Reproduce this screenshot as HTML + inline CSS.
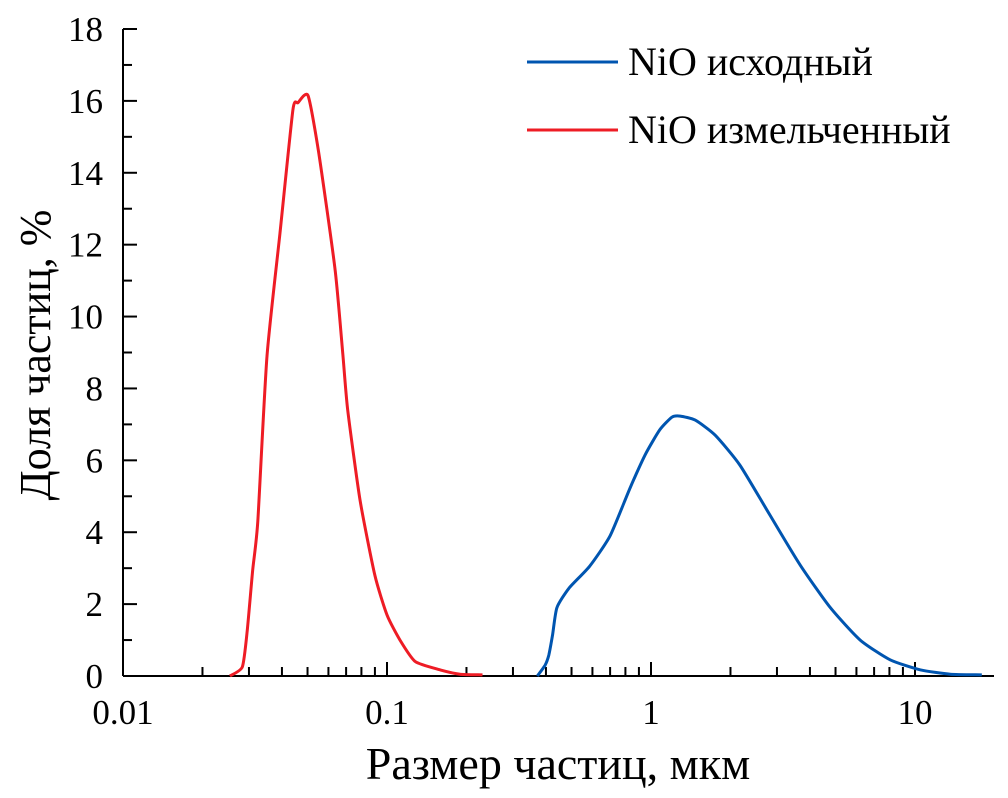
<!DOCTYPE html>
<html><head><meta charset="utf-8"><style>
body{margin:0;background:#fff}
svg{display:block}
svg text{font-family:"Liberation Serif","Times New Roman",Times,"Noto Serif CJK SC","DejaVu Serif",serif;fill:#000}
</style></head><body>
<svg id="chart" width="1008" height="798" viewBox="0 0 1008 798" xmlns="http://www.w3.org/2000/svg">
<g id="axes"></g>
<g id="series"></g>
<g>
<line x1="527" y1="62" x2="618" y2="62" stroke="#0055b0" stroke-width="3"/>
<text x="628" y="75" font-size="40">NiO исходный</text>
<line x1="527" y1="130" x2="618" y2="130" stroke="#ee1c25" stroke-width="3"/>
<text x="628" y="143" font-size="40">NiO измельченный</text>
</g>
<text x="558" y="779" font-size="46" text-anchor="middle">Размер частиц, мкм</text>
<text transform="translate(50,355) rotate(-90)" font-size="44" text-anchor="middle">Доля частиц, %</text>
</svg>
<script>
const yTicks=[0,2,4,6,8,10,12,14,16,18];
const xTickLabels=["0.01","0.1","1","10"];
const xDecades=[0.01,0.1,1,10];
const milledSize=[0.0254,0.0283,0.0295,0.031,0.0324,0.0351,0.0393,0.044,0.046,0.0502,0.055,0.0636,0.0681,0.071,0.079,0.090,0.1,0.112,0.128,0.159,0.189,0.23];
const milledShare=[0,0.25,1.2,2.95,4.3,8.9,12.3,15.75,15.95,16.15,14.6,11.3,8.9,7.4,4.9,2.8,1.7,1.0,0.4,0.17,0.05,0.03];
const origSize=[0.371,0.397,0.41,0.424,0.44,0.49,0.585,0.70,0.83,0.95,1.08,1.2,1.29,1.47,1.75,2.17,2.82,3.67,4.78,6.2,8.05,10.5,13.6,17.9];
const origShare=[0,0.3,0.58,1.15,1.9,2.45,3.05,3.9,5.2,6.15,6.85,7.2,7.23,7.12,6.7,5.87,4.48,3.09,1.9,1.0,0.45,0.17,0.05,0.03];

const NS="http://www.w3.org/2000/svg";
const X0=123,DEC=264,Y0=676,YTOP=29,YMAX=18,XEND=994;
function xs(v){return X0+(Math.log10(v)+2)*DEC;}
function ys(v){return Y0-(v/YMAX)*(Y0-YTOP);}
function mk(tag,attrs,parent){const e=document.createElementNS(NS,tag);for(const k in attrs)e.setAttribute(k,attrs[k]);parent.appendChild(e);return e;}
const ax=document.getElementById('axes');
let l=mk('line',{x1:X0,y1:YTOP,x2:X0,y2:Y0,stroke:'#000','stroke-width':2},ax);


l=mk('line',{x1:X0,y1:Y0,x2:XEND,y2:Y0,stroke:'#000','stroke-width':2},ax);


for(let v=0;v<=YMAX;v++){
  const y=ys(v),major=v%2===0;
  l=mk('line',{x1:X0,y1:y,x2:X0+(major?14:9),y2:y,stroke:'#000','stroke-width':2},ax);
  
  
}
yTicks.forEach(v=>{
  const t=mk('text',{x:X0-20,y:ys(v)+12,'font-size':35,'text-anchor':'end'},ax);
  t.textContent=v;
  
  
});
xDecades.forEach((d,i)=>{
  for(let k=1;k<=9;k++){
    const v=d*k; if(xs(v)>XEND) break;
    const x=xs(v),major=k===1;
    if(i===0&&k===1) continue;
    l=mk('line',{x1:x,y1:Y0,x2:x,y2:Y0-(major?14:9),stroke:'#000','stroke-width':2},ax);
    
    
  }
  const t=mk('text',{x:xs(d),y:Y0+48,'font-size':35,'text-anchor':'middle'},ax);
  t.textContent=xTickLabels[i];
  
  
});
const sg=document.getElementById('series');
function line(xsA,ysA,color,name){
  const P=xsA.map((v,i)=>[xs(v),ys(ysA[i])]);
  let d='M'+P[0][0].toFixed(1)+','+P[0][1].toFixed(1);
  for(let i=0;i<P.length-1;i++){
    const p0=P[Math.max(0,i-1)],p1=P[i],p2=P[i+1],p3=P[Math.min(P.length-1,i+2)];
    const c1=[p1[0]+(p2[0]-p0[0])/10,p1[1]+(p2[1]-p0[1])/10];
    const c2=[p2[0]-(p3[0]-p1[0])/10,p2[1]-(p3[1]-p1[1])/10];
    d+=' C'+c1.map(n=>n.toFixed(1)).join(',')+' '+c2.map(n=>n.toFixed(1)).join(',')+' '+p2.map(n=>n.toFixed(1)).join(',');
  }
  const p=mk('path',{d:d,fill:'none',stroke:color,'stroke-width':3,'stroke-linejoin':'round'},sg);
  
  
}
line(milledSize,milledShare,'#ee1c25','series-milled');
line(origSize,origShare,'#0055b0','series-original');
</script>
</body></html>
